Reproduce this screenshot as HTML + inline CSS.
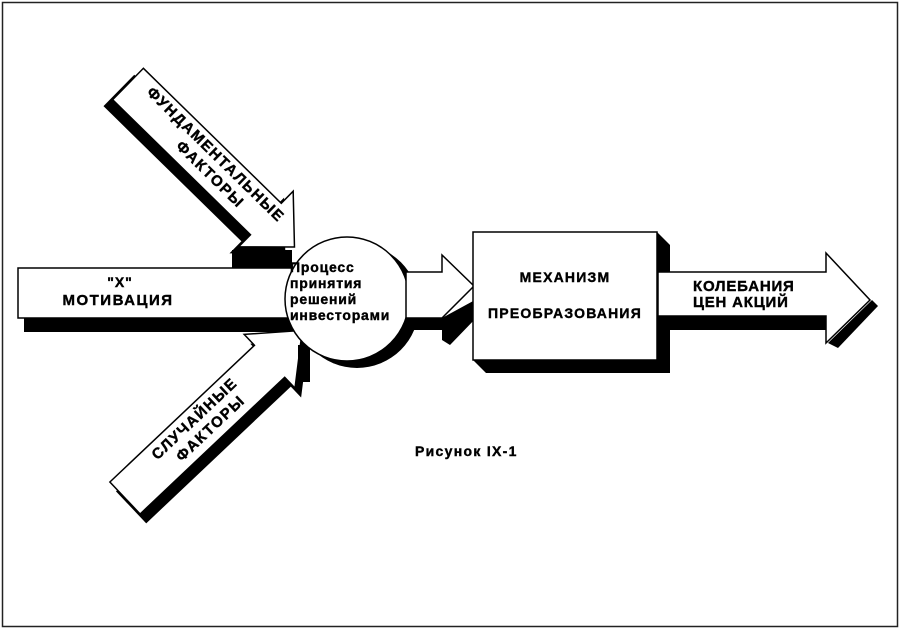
<!DOCTYPE html>
<html><head><meta charset="utf-8"><style>
html,body{margin:0;padding:0;background:#fff}
svg{display:block}
text{font-family:"Liberation Sans",sans-serif;font-weight:bold;fill:#000;stroke:#000;stroke-width:0.4}
</style></head><body>
<svg width="900" height="630" viewBox="0 0 900 630">
<rect x="0" y="0" width="900" height="630" fill="#fff"/>
<rect x="2.5" y="2.5" width="895" height="624" fill="none" stroke="#222" stroke-width="1.5"/>

<!-- left arrow -->
<rect x="232" y="250" width="60" height="20" fill="#000"/>
<polygon points="24,318 295,318 295,332 24,332" fill="#000"/>
<polygon points="18,268 295,268 295,318 18,318" fill="#fff" stroke="#000" stroke-width="1.5"/>
<text x="120" y="287" font-size="14" text-anchor="middle" letter-spacing="1">"X"</text>
<text x="118" y="305" font-size="15" text-anchor="middle" letter-spacing="1.5">МОТИВАЦИЯ</text>

<!-- top diagonal arrow -->
<g transform="translate(128,84) rotate(44.4)">
  <polygon transform="translate(-2,11)" points="0,-22 193,-22 193,-39 233,0 193,39 193,22 0,22" fill="#000"/>
  <polygon points="0,-22 193,-22 193,-39 233,0 193,39 193,22 0,22" fill="#fff" stroke="#000" stroke-width="1.5"/>
  <text x="112" y="-6" font-size="15" text-anchor="middle" letter-spacing="1.5">ФУНДАМЕНТАЛЬНЫЕ</text>
  <text x="122" y="12" font-size="15" text-anchor="middle" letter-spacing="1.5">ФАКТОРЫ</text>
</g>

<!-- bottom diagonal arrow -->
<g transform="translate(125,498) rotate(-43.4)">
  <polygon transform="translate(-2,11)" points="0,-22 199,-22 199,-37 244,0 199,37 199,22 0,22" fill="#000"/>
  <polygon points="0,-22 199,-22 199,-37 244,0 199,37 199,22 0,22" fill="#fff" stroke="#000" stroke-width="1.5"/>
  <text x="105" y="-5" font-size="15" text-anchor="middle" letter-spacing="1.5">СЛУЧАЙНЫЕ</text>
  <text x="110" y="13" font-size="15" text-anchor="middle" letter-spacing="1.5">ФАКТОРЫ</text>
</g>
<rect x="298" y="345" width="12" height="37" fill="#000"/>

<!-- circle -->
<circle cx="357" cy="306" r="62" fill="#000"/>
<circle cx="347" cy="299" r="62" fill="#fff" stroke="#000" stroke-width="1.5"/>
<text x="290" y="272" font-size="14" letter-spacing="0.8">Процесс</text>
<text x="290" y="288" font-size="14" letter-spacing="0.8">принятия</text>
<text x="290" y="304" font-size="14" letter-spacing="0.8">решений</text>
<text x="290" y="320" font-size="14" letter-spacing="0.8">инвесторами</text>

<!-- middle arrow -->
<polygon points="442,318 475,300 478,316 450,345 442,340" fill="#000"/>
<polygon points="406,272 442,272 442,255 474,286 442,318 406,318" fill="#fff" stroke="#000" stroke-width="1.5"/>
<polygon points="408,318 442,318 442,330 408,330" fill="#000"/>

<!-- box -->
<polygon points="657,232 670,245 670,373 486,373 473,360" fill="#000"/>
<rect x="473" y="232" width="184" height="128" fill="#fff" stroke="#000" stroke-width="1.5"/>
<text x="565" y="282" font-size="14" text-anchor="middle" letter-spacing="1.2">МЕХАНИЗМ</text>
<text x="565" y="318" font-size="14" text-anchor="middle" letter-spacing="1.2">ПРЕОБРАЗОВАНИЯ</text>

<!-- right arrow -->
<polygon points="665,316 828,316 828,330 665,330" fill="#000"/>
<polygon points="828,343 838,348 878,306 872,300" fill="#000"/>
<polygon points="658,272 826,272 826,253 870,300 826,343 826,316 658,316" fill="#fff" stroke="#000" stroke-width="1.5"/>
<text x="693" y="291" font-size="15" letter-spacing="0.8">КОЛЕБАНИЯ</text>
<text x="693" y="307" font-size="15" letter-spacing="0.8">ЦЕН АКЦИЙ</text>

<text x="415" y="456" font-size="14" letter-spacing="1.3">Рисунок IX-1</text>
</svg>
</body></html>
